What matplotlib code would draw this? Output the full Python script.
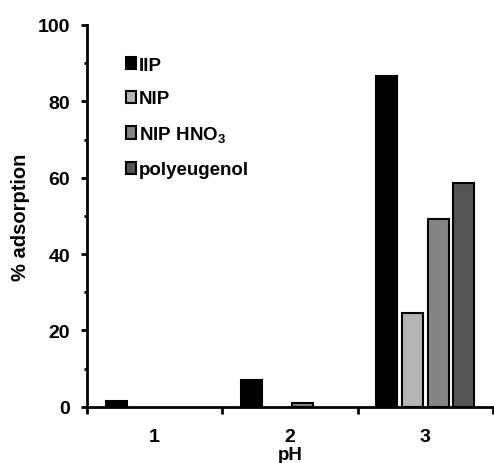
import numpy as np
import matplotlib
matplotlib.use('Agg')
import matplotlib.pyplot as plt

plt.rcParams['font.family'] = ['Liberation Sans', 'DejaVu Sans']
plt.rcParams['font.weight'] = 'bold'
plt.rcParams['mathtext.fontset'] = 'custom'
plt.rcParams['mathtext.rm'] = 'Liberation Sans'
plt.rcParams['mathtext.bf'] = 'Liberation Sans:bold'

# data (0 = no bar drawn)
ph_labels = ['1', '2', '3']
series_names = ['IIP', 'NIP', r'NIP HNO$_3$', 'polyeugenol']
iip = [1.6, 7.1, 86.6]
nip = [0.0, 0.0, 24.7]
nip_hno3 = [0.0, 1.0, 49.3]
polyeugenol = [0.0, 0.0, 58.6]
colors = ['#000000', '#b5b5b5', '#858585', '#555555']

fig = plt.figure(figsize=(4.94, 4.64), dpi=100)
ax = fig.add_axes([0.176, 0.121, 0.822, 0.823])

x = np.arange(1, len(ph_labels) + 1)
width = 0.155
step = 0.19
all_series = [iip, nip, nip_hno3, polyeugenol]
for i, (vals, name, col) in enumerate(zip(all_series, series_names, colors)):
    vals = np.array(vals)
    keep = vals > 0
    offset = (i - 1.5) * step
    ax.bar(x[keep] + offset, vals[keep], width, color=col, edgecolor='black',
           linewidth=1.5, label=name)

ax.set_xlim(0.5, 3.5)
ax.set_ylim(0, 100)
ax.set_yticks([0, 20, 40, 60, 80, 100])
ax.set_yticks(np.arange(10, 100, 20), minor=True)
ax.set_xticks([0.5, 1.5, 2.5, 3.5])
ax.set_xticklabels([])
ax.set_xticks(x, minor=True)
ax.set_xticklabels(ph_labels, minor=True)

for s in ['top', 'right']:
    ax.spines[s].set_visible(False)
for s in ['left', 'bottom']:
    ax.spines[s].set_linewidth(2)

ax.tick_params(axis='y', which='major', direction='out', length=4, width=2,
               labelsize=14, pad=8)
ax.tick_params(axis='y', which='minor', direction='out', length=2, width=2)
ax.tick_params(axis='x', which='major', direction='out', length=5, width=2)
ax.tick_params(axis='x', which='minor', length=0, labelsize=14, pad=15)

ax.set_xlabel('pH', fontsize=13.5, fontweight='bold')
ax.xaxis.set_label_coords(0.5, -0.103)
ax.set_ylabel('% adsorption', fontsize=14.5, fontweight='bold', labelpad=6)

ax.legend(loc='upper left', bbox_to_anchor=(0.077, 0.937), frameon=False,
          fontsize=13.5, handlelength=0.55, handleheight=0.65, handletextpad=0.15,
          labelspacing=0.9, borderaxespad=0)

fig.savefig('out.png', dpi=100)
